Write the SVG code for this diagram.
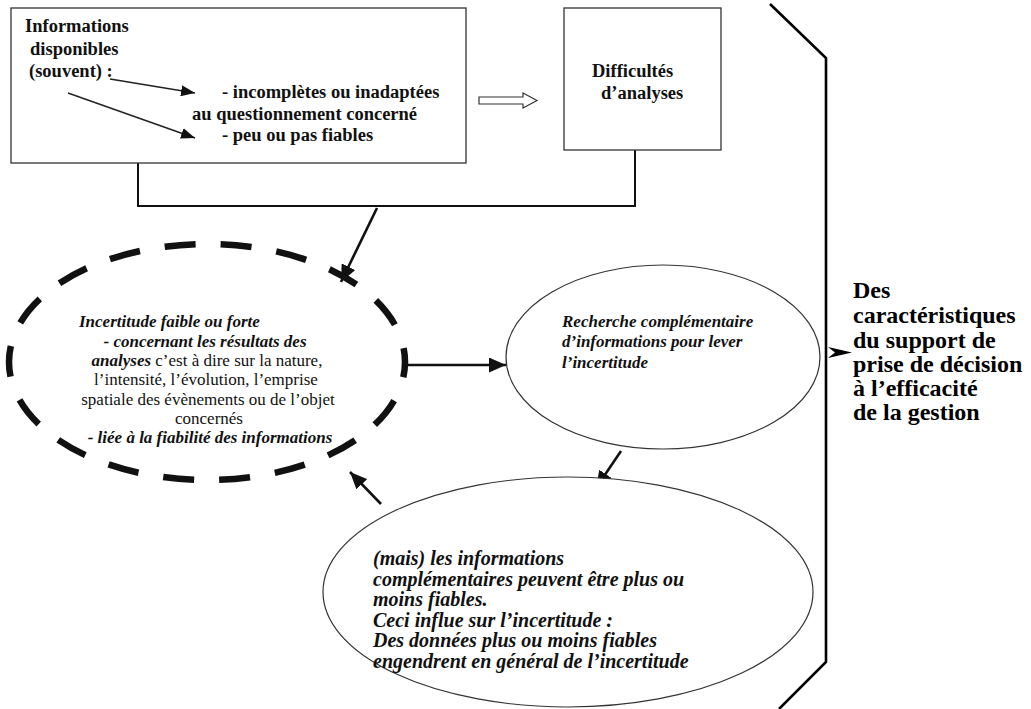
<svg xmlns="http://www.w3.org/2000/svg" width="1031" height="709" viewBox="0 0 1031 709">
<style>
.b{font-family:"Liberation Serif","DejaVu Serif",serif;font-weight:bold;font-size:18.5px;fill:#111}
.bi{font-family:"Liberation Serif","DejaVu Serif",serif;font-weight:bold;font-style:italic;font-size:17px;fill:#111}
.bi2{font-family:"Liberation Serif","DejaVu Serif",serif;font-weight:bold;font-style:italic;font-size:20px;fill:#111}
.r{font-family:"Liberation Serif","DejaVu Serif",serif;font-size:17px;fill:#111}
.big{font-family:"Liberation Serif","DejaVu Serif",serif;font-weight:bold;font-size:24px;fill:#000}
.box{fill:#fff;stroke:#333;stroke-width:1.3}
.ell{fill:#fff;stroke:#333;stroke-width:1.2}
.thin{stroke:#222;stroke-width:1.5;fill:none}
.thick{stroke:#111;stroke-width:2.6;fill:none}
</style>
<defs>
<marker id="ah" markerUnits="userSpaceOnUse" markerWidth="14" markerHeight="11" refX="14" refY="5.5" orient="auto">
<path d="M0,0 L14,5.5 L0,11 z" fill="#111"/>
</marker>
<marker id="ahb" markerUnits="userSpaceOnUse" markerWidth="17" markerHeight="15" refX="17" refY="7.5" orient="auto">
<path d="M0,0 L17,7.5 L0,15 z" fill="#111"/>
</marker>
</defs>
<rect width="1031" height="709" fill="#fff"/>

<g id="connectors">
<polyline class="thick" points="138,163 138,206 635,206 635,150" style="stroke-width:2"/>
<line class="thick" x1="377" y1="208" x2="341" y2="282" marker-end="url(#ahb)"/>
<line class="thick" x1="408" y1="365" x2="506" y2="365" marker-end="url(#ahb)"/>
<line class="thick" x1="621" y1="451" x2="596" y2="488" marker-end="url(#ahb)"/>
<line class="thick" x1="381" y1="504" x2="350" y2="472" marker-end="url(#ahb)"/>
<polygon points="479,97 523,97 523,93 537,100.5 523,108 523,104 479,104" fill="#fff" stroke="#333" stroke-width="1.2"/>
<polyline points="770,4 826,58 826,662 779,709" fill="none" stroke="#000" stroke-width="2.6"/>
<path d="M828,347 L852,352.5 L828,358 L835,352.5 z" fill="#000"/>
</g>

<g id="informations">
<rect class="box" x="11" y="8" width="455" height="155"/>
<text class="b" x="25" y="32">Informations</text>
<text class="b" x="30" y="55">disponibles</text>
<text class="b" x="29" y="77">(souvent) :</text>
<text class="b" x="222" y="98">- incomplètes ou inadaptées</text>
<text class="b" x="192" y="120">au questionnement concerné</text>
<text class="b" x="222" y="141">- peu ou pas fiables</text>
<line class="thin" x1="110" y1="79" x2="195" y2="93" marker-end="url(#ah)"/>
<line class="thin" x1="68" y1="93" x2="195" y2="138" marker-end="url(#ah)"/>
</g>

<g id="difficultes">
<rect class="box" x="564" y="8" width="157" height="142"/>
<text class="b" x="592" y="77">Difficultés</text>
<text class="b" x="601" y="99">d’analyses</text>
</g>

<g id="incertitude">
<ellipse cx="207" cy="362" rx="198" ry="118" fill="none" stroke="#111" stroke-width="6.5" stroke-dasharray="31 25.1" stroke-dashoffset="15.5"/>
<text class="bi" x="79" y="327">Incertitude faible ou forte</text>
<text class="bi" x="205" y="346.5" text-anchor="middle">- concernant les résultats des</text>
<text class="r" x="207" y="366" text-anchor="middle"><tspan class="bi">analyses</tspan> c’est à dire sur la nature,</text>
<text class="r" x="206" y="385" text-anchor="middle">l’intensité, l’évolution, l’emprise</text>
<text class="r" x="208" y="404.5" text-anchor="middle">spatiale des évènements ou de l’objet</text>
<text class="r" x="209" y="424" text-anchor="middle">concernés</text>
<text class="bi" x="210" y="443" text-anchor="middle">- liée à la fiabilité des informations</text>
</g>

<g id="recherche">
<ellipse class="ell" cx="663" cy="357" rx="157" ry="92"/>
<text class="bi" x="562" y="327">Recherche complémentaire</text>
<text class="bi" x="562" y="347">d’informations pour lever</text>
<text class="bi" x="562" y="368">l’incertitude</text>
</g>

<g id="mais">
<ellipse class="ell" cx="568" cy="592" rx="245" ry="115"/>
<text class="bi2" x="373" y="565">(mais) les informations</text>
<text class="bi2" x="373" y="585.5">complémentaires peuvent être plus ou</text>
<text class="bi2" x="373" y="606">moins fiables.</text>
<text class="bi2" x="373" y="626.5">Ceci influe sur l’incertitude :</text>
<text class="bi2" x="373" y="647">Des données plus ou moins fiables</text>
<text class="bi2" x="373" y="667.5">engendrent en général de l’incertitude</text>
</g>

<g id="conclusion">
<text class="big" x="853" y="298">Des</text>
<text class="big" x="853" y="323">caractéristiques</text>
<text class="big" x="853" y="348">du support de</text>
<text class="big" x="853" y="372">prise de décision</text>
<text class="big" x="853" y="396">à l’efficacité</text>
<text class="big" x="853" y="420">de la gestion</text>
</g>
</svg>
